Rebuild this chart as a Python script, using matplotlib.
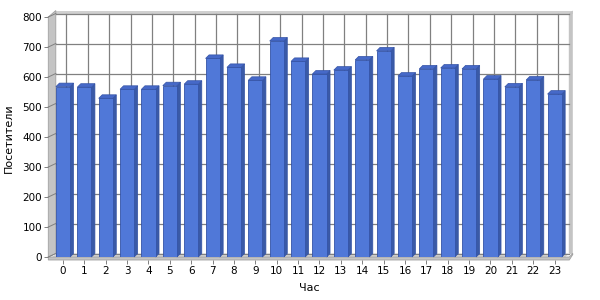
import matplotlib.pyplot as plt
from matplotlib.patches import Polygon, Rectangle

# data
hours = list(range(24))
visitors = [568, 566, 529, 559, 559, 571, 576, 662, 632, 589, 720, 652,
            610, 623, 657, 687, 603, 627, 630, 627, 593, 567, 590, 543]
y_ticks = [0, 100, 200, 300, 400, 500, 600, 700, 800]
x_title = 'Час'
y_title = 'Посетители'

W, H = 600, 300
fig = plt.figure(figsize=(6, 3), dpi=100)
ax = fig.add_axes([52.3 / W, 43 / H, 513 / W, 240 / H])
ax.set_xlim(-0.5, 23.5)
ax.set_ylim(0, 800)
ax.patch.set_visible(False)

# pixel -> data units
px = 24 / 513
py = 800 / 240
d = 3.5
dx, dy = d * px, d * py
x0, x1 = -0.5, 23.5
top = y_ticks[-1]

wall_col = '#c4c4c4'
edge_col = '#a0a0a0'
grid_col = '#808080'

# back wall
ax.add_patch(Rectangle((x0 + dx, dy), x1 - x0, top, fc='white', ec='none', zorder=0))
# top and right bands of the back wall
ax.add_patch(Rectangle((x0 + dx, top + dy), x1 - x0 + 4 * px, 3 * py,
                       fc='#d0d0d0', ec='none', zorder=0.5, clip_on=False))
ax.add_patch(Polygon([(x1 + dx, dy), (x1 + dx + 4 * px, dy - 1 * py),
                      (x1 + dx + 4 * px, top + dy + 3 * py), (x1 + dx, top + dy)],
                     fc=wall_col, ec='none', zorder=0.5, clip_on=False))
# left wall
ax.add_patch(Polygon([(x0 - 4 * px, 0), (x0 - 4 * px, top), (x0 + dx, top + dy + 3 * py),
                      (x0 + dx, dy)], fc=wall_col, ec=edge_col, lw=0.6,
                     zorder=0.5, clip_on=False))
# floor
ax.add_patch(Polygon([(x0, 0), (x1, 0), (x1 + dx, dy), (x0 + dx, dy)],
                     fc='#d8d8d8', ec='none', zorder=0.6, clip_on=False))
ax.add_patch(Polygon([(x0 - 4 * px, -3 * py), (x1 + 4 * px, -3 * py),
                      (x1 + dx + 4 * px, dy - 1 * py), (x1 + dx + 4 * px, dy),
                      (x1 + 4 * px, 0), (x0 - 4 * px, 0)],
                     fc=wall_col, ec=edge_col, lw=0.6, zorder=0.6, clip_on=False))

# gridlines on the back wall and across the left wall
for v in y_ticks:
    ax.plot([x0 + dx, x1 + dx], [v + dy, v + dy], color=grid_col, lw=0.9,
            zorder=1, clip_on=False)
    ax.plot([x0 - 4 * px, x0 + dx], [v, v + dy], color=grid_col, lw=0.7,
            zorder=1, clip_on=False)
for h in hours:
    ax.plot([h + dx, h + dx], [dy, top + dy], color=grid_col, lw=0.9,
            zorder=1, clip_on=False)

# bars: front faces through ax.bar, then side and top faces
bw = 0.66
front = '#5078d8'
side = '#3a5aa6'
topc = '#4669c8'
line = '#3453a6'
bars = ax.bar(hours, visitors, width=bw, color=front, edgecolor=line,
              linewidth=0.6, zorder=3)
for h, v in zip(hours, visitors):
    l, r = h - bw / 2, h + bw / 2
    ax.add_patch(Polygon([(r, 0), (r + dx, dy), (r + dx, v + dy), (r, v)],
                         fc=side, ec=line, lw=0.5, zorder=2.9, clip_on=False))
    ax.add_patch(Polygon([(l, v), (r, v), (r + dx, v + dy), (l + dx, v + dy)],
                         fc=topc, ec=line, lw=0.5, zorder=2.9, clip_on=False))

# axes: ticks and labels
for s in ax.spines.values():
    s.set_visible(False)
ax.spines['bottom'].set_position(('outward', 3 * 0.72))
ax.spines['left'].set_position(('outward', 4 * 0.72))
ax.set_xticks(hours)
ax.set_xticklabels([str(h) for h in hours])
ax.set_yticks(y_ticks)
ax.tick_params(axis='both', length=3, width=0.7, color=grid_col,
               labelsize=7.5, pad=1.5, labelcolor='black')

fig.text(309 / W, 1 - 288 / H, x_title, ha='center', va='center', fontsize=8)
fig.text(9 / W, 1 - 138 / H, y_title, rotation=90, ha='center', va='center',
         fontsize=8)

fig.savefig('out.png', dpi=100)
